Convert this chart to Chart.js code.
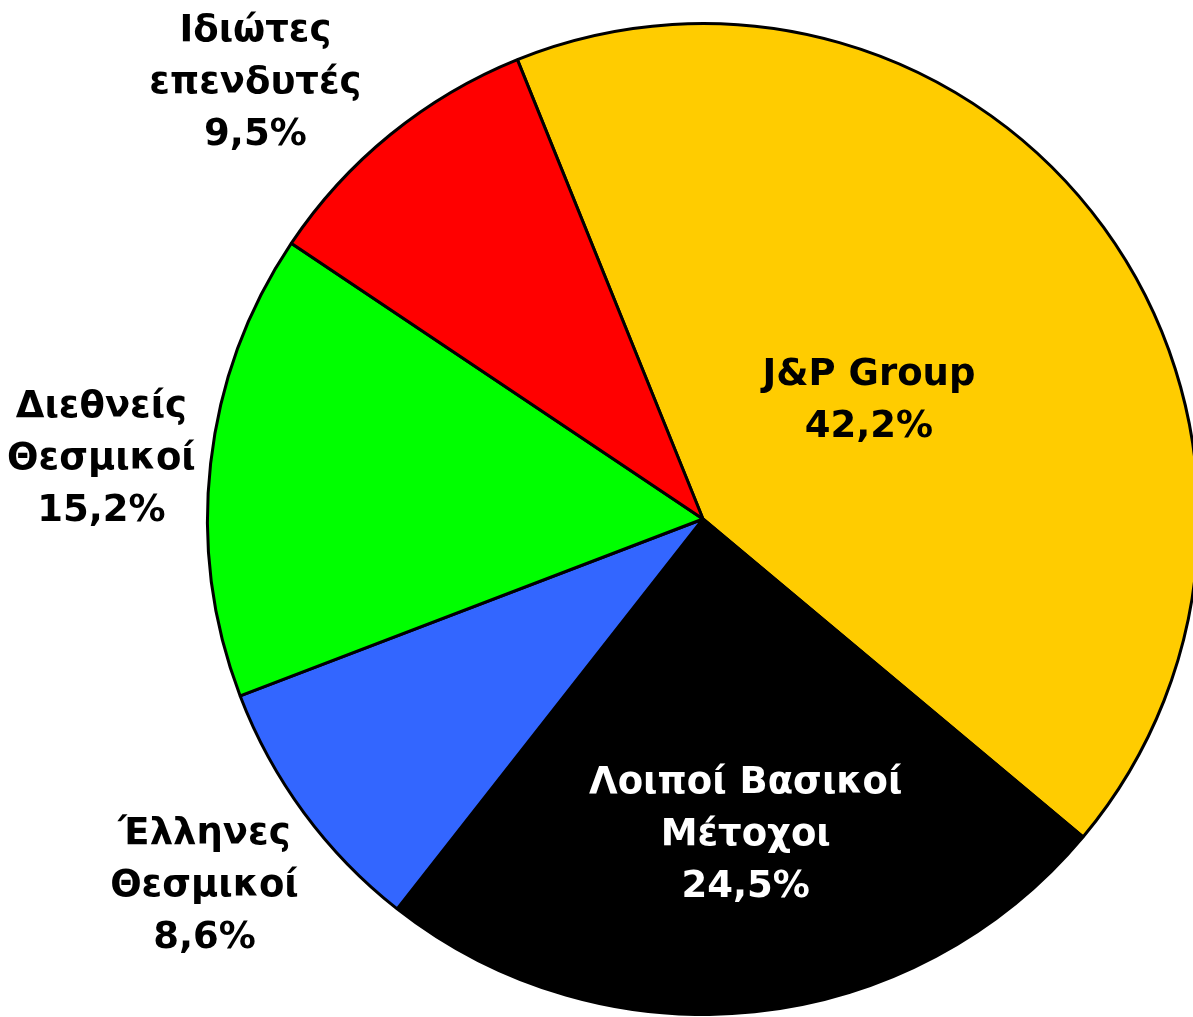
<!DOCTYPE html>
<html>
<head>
<meta charset="utf-8">
<script src="https://cdn.jsdelivr.net/npm/chart.js@4.4.1/dist/chart.umd.min.js"></script>
<style>
  html, body { margin: 0; padding: 0; background: #ffffff; overflow: hidden; width: 1193px; height: 1017px; }
  #wrap { position: absolute; left: 0; top: 0; width: 1200px; height: 1016px; }
</style>
</head>
<body>
<div id="wrap"><canvas id="c"></canvas></div>
<script>
// ---- data ----
const categories = ["J&P Group", "Λοιποί Βασικοί Μέτοχοι", "Έλληνες Θεσμικοί", "Διεθνείς Θεσμικοί", "Ιδιώτες επενδυτές"];
const labelLines = [
  ["J&P Group"],
  ["Λοιποί Βασικοί", "Μέτοχοι"],
  ["Έλληνες", "Θεσμικοί"],
  ["Διεθνείς", "Θεσμικοί"],
  ["Ιδιώτες", "επενδυτές"]
];
const values = [42.2, 24.5, 8.6, 15.2, 9.5];
const valueLabels = ["42,2%", "24,5%", "8,6%", "15,2%", "9,5%"];

// ---- styles ----
const colors = ["#FFCC00", "#000000", "#3366FF", "#00FF00", "#FF0000"];
const textColors = ["#000000", "#FFFFFF", "#000000", "#000000", "#000000"];
// label placement: [radial factor, angle shift in degrees]
const labelPlace = [[0.41, 0.8], [0.645, -1.7], [1.25, 0], [1.22, -0.8], [1.26, -6.7]];

const labelPlugin = {
  id: 'sliceLabels',
  afterDatasetsDraw(chart) {
    const ctx = chart.ctx;
    const meta = chart.getDatasetMeta(0);
    ctx.save();
    ctx.font = 'bold 37px "DejaVu Sans", Verdana, sans-serif';
    ctx.textAlign = 'center';
    ctx.textBaseline = 'middle';
    const lh = 52;
    meta.data.forEach((arc, i) => {
      const p = arc.getProps(['x', 'y', 'startAngle', 'endAngle', 'outerRadius'], true);
      const mid = (p.startAngle + p.endAngle) / 2 + labelPlace[i][1] * Math.PI / 180;
      const r = p.outerRadius * labelPlace[i][0];
      const cx = p.x + Math.cos(mid) * r;
      const cy = p.y + Math.sin(mid) * r;
      const lines = labelLines[i].concat([valueLabels[i]]);
      const y0 = cy - (lines.length - 1) * lh / 2;
      ctx.fillStyle = textColors[i];
      lines.forEach((t, k) => ctx.fillText(t, cx, y0 + k * lh));
    });
    ctx.restore();
  }
};

new Chart(document.getElementById('c'), {
  type: 'pie',
  data: {
    labels: categories,
    datasets: [{
      data: values,
      backgroundColor: colors,
      borderColor: '#000000',
      borderWidth: 3
    }]
  },
  options: {
    responsive: true,
    maintainAspectRatio: false,
    animation: false,
    rotation: -22,
    layout: { padding: { left: 206, top: 22, right: 0, bottom: 0 } },
    plugins: { legend: { display: false }, tooltip: { enabled: false } }
  },
  plugins: [labelPlugin]
});
</script>
</body>
</html>
